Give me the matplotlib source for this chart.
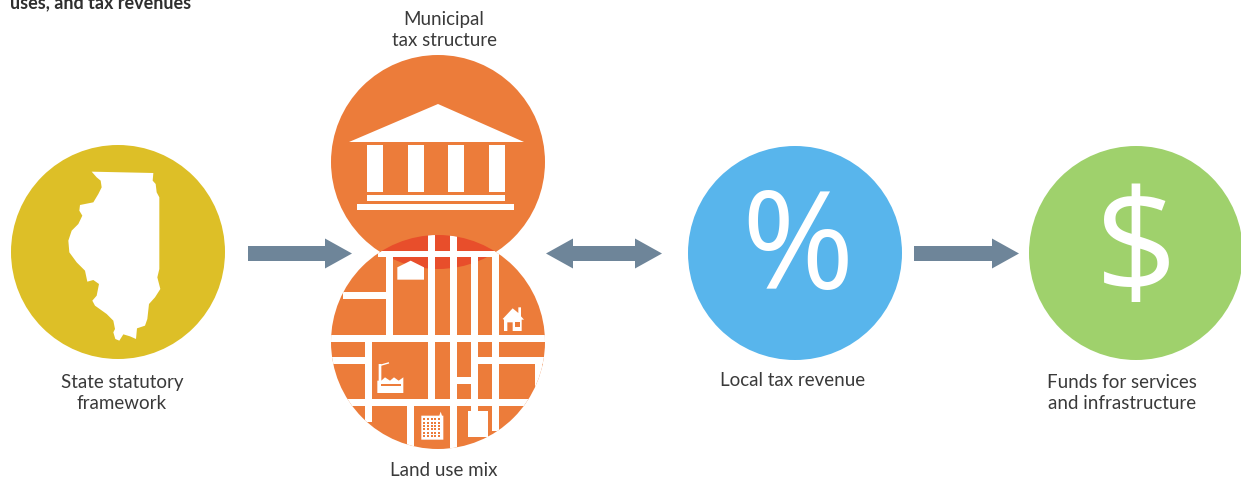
import matplotlib
matplotlib.use("Agg")
import matplotlib.pyplot as plt
from matplotlib.patches import Circle, Polygon, Rectangle, FancyArrow

plt.rcParams['font.family'] = ['Lato', 'DejaVu Sans']

W = 1241
H = 481

# circles: x, y, colour
circle_x = [118, 438, 438, 795, 1136]
circle_y = [253, 163, 343, 254, 254]
circle_colors = ['#DDBF27', '#EC7C3A', '#EC7C3A', '#58B5EC', '#9FD16C']
R = 107

labels = ["State statutory\nframework", "Municipal\ntax structure", "Land use mix",
          "Local tax revenue", "Funds for services\nand infrastructure"]
label_x = [122, 444, 444, 793, 1122]
label_y = [393, 30, 471, 381, 393]

title_text = "uses, and tax revenues"

arrow_color = '#6E8599'

illinois = [(275,68),(460,72),(458,95),(467,105),(470,130),(478,145),(478,360),(472,385),
            (481,420),(465,445),(447,465),(442,510),(435,530),(411,538),(408,570),(390,562),
            (370,556),(358,575),(346,570),(340,550),(345,540),(340,515),(320,495),(285,470),
            (277,455),(290,440),(297,405),(280,393),(262,398),(255,365),(230,340),(208,310),
            (205,275),(215,245),(235,225),(247,200),(238,185),(240,168),(280,160),(295,135),
            (305,115),(302,95),(290,85)]

# streets on the land use circle: x0, x1, y0, y1
streets = [(386,393,258,336),(428,435,225,400),(450,457,225,450),(471,478,258,420),
           (492,499,252,432),(365,372,340,423),(407,414,403,450),(535,542,360,420),
           (378,497,252,258),(343,386,293,300),(325,550,336,343),(330,365,358,365),
           (478,550,358,365),(457,471,378,385),(345,535,400,407)]


def z(p):
    # crop coords of the land use circle to figure pixels
    return (320 + p[0] / 3, 230 + p[1] / 3)


def rect(ax, x0, x1, y0, y1, color='white', zorder=5, **kw):
    r = Rectangle((x0, y0), x1 - x0, y1 - y0, facecolor=color, edgecolor='none', zorder=zorder, **kw)
    ax.add_patch(r)
    return r


def arrow(ax, x0, x1, double=False):
    ym = 254.5
    if double:
        pts = [(x0, ym), (x0+27, ym-15), (x0+27, ym-7.5), (x1-27, ym-7.5), (x1-27, ym-15), (x1, ym),
               (x1-27, ym+15), (x1-27, ym+7.5), (x0+27, ym+7.5), (x0+27, ym+15)]
    else:
        pts = [(x0, ym-7.5), (x1-27, ym-7.5), (x1-27, ym-15), (x1, ym), (x1-27, ym+15),
               (x1-27, ym+7.5), (x0, ym+7.5)]
    ax.add_patch(Polygon(pts, facecolor=arrow_color, edgecolor='none', zorder=3))


fig = plt.figure(figsize=(W / 100, H / 100), dpi=100)
ax = fig.add_axes([0, 0, 1, 1])
ax.set_xlim(0, W)
ax.set_ylim(H, 0)
ax.axis('off')

for x, y, c in zip(circle_x, circle_y, circle_colors):
    ax.add_patch(Circle((x, y), R, facecolor=c, edgecolor='none', zorder=2))

# overlap of the two orange circles
lens = Circle((circle_x[1], circle_y[1]), R, facecolor='#E84E2B', edgecolor='none', zorder=4)
ax.add_patch(lens)
lens.set_clip_path(Circle((circle_x[2], circle_y[2]), R, transform=ax.transData))

# streets
land_clip = Circle((circle_x[2], circle_y[2]), R, transform=ax.transData)
for x0, x1, y0, y1 in streets:
    r = rect(ax, x0, x1, y0, y1)
    r.set_clip_path(land_clip)

# illinois
ax.add_patch(Polygon([(p[0] / 3, 150 + p[1] / 3) for p in illinois], facecolor='white', edgecolor='none', zorder=5))

# municipal building
ax.add_patch(Polygon([(349, 143), (438, 105), (524, 143)], facecolor='white', edgecolor='none', zorder=5))
for cx in [367, 408, 448, 489]:
    rect(ax, cx, cx + 16, 146, 193)
rect(ax, 367, 505, 196, 202)
rect(ax, 357, 514, 205, 211)

# warehouse
ax.add_patch(Polygon([z(p) for p in [(232,115),(272,95),(312,115),(312,152),(232,152)]],
                     facecolor='white', edgecolor='none', zorder=6))
# house
ax.add_patch(Polygon([z(p) for p in [(548,270),(578,238),(595,252),(595,235),(603,235),(603,262),(612,272),
                                     (605,272),(605,306),(578,306),(578,280),(562,280),(562,306),(552,306),(552,272)]],
                     facecolor='white', edgecolor='none', zorder=6))
ax.add_patch(Rectangle(z((586,280)), 5, 5, facecolor='#EC7C3A', edgecolor='none', zorder=7))
# factory
ax.add_patch(Polygon([z(p) for p in [(172,492),(172,455),(176,455),(176,405),(184,405),(184,455),(195,445),(210,455),
                                     (222,445),(236,455),(250,445),(250,492)]],
                     facecolor='white', edgecolor='none', zorder=6))
ax.add_patch(Rectangle(z((182,464)), 20, 2, facecolor='#EC7C3A', edgecolor='none', zorder=7))
ax.plot([z((184,408))[0], z((205,402))[0]], [z((184,408))[1], z((205,402))[1]], color='white', lw=1, zorder=6)
# apartment
ax.add_patch(Polygon([z(p) for p in [(304,560),(358,560),(362,548),(366,560),(370,560),(370,632),(304,632)]],
                     facecolor='white', edgecolor='none', zorder=6))
for i in range(5):
    for j in range(6):
        ax.add_patch(Rectangle(z((310 + i * 11, 568 + j * 10)), 2, 2, facecolor='#EC7C3A', edgecolor='none', zorder=7))
# tall block
rect(ax, z((445,0))[0], z((505,0))[0], z((0,545))[1], z((0,625))[1], zorder=6)

# arrows
arrow(ax, 248, 352)
arrow(ax, 546, 662, double=True)
arrow(ax, 914, 1019)

# percent and dollar signs
ax.text(797, 253, "%", color='white', fontsize=98, fontweight='normal', ha='center', va='center',
        family='Open Sans', zorder=6)
ax.text(1136, 256, "$", color='white', fontsize=104, fontweight='normal', ha='center', va='center',
        family='Open Sans', zorder=6)

# labels
for s, x, y in zip(labels, label_x, label_y):
    ax.text(x, y, s, color='#3A3A3A', fontsize=13.5, ha='center', va='center', linespacing=1.25, zorder=8)

ax.text(10, 3, title_text, color='#2F2F2F', fontsize=13, fontweight='bold', ha='left', va='center', zorder=8)

fig.savefig("out.png", dpi=100)
